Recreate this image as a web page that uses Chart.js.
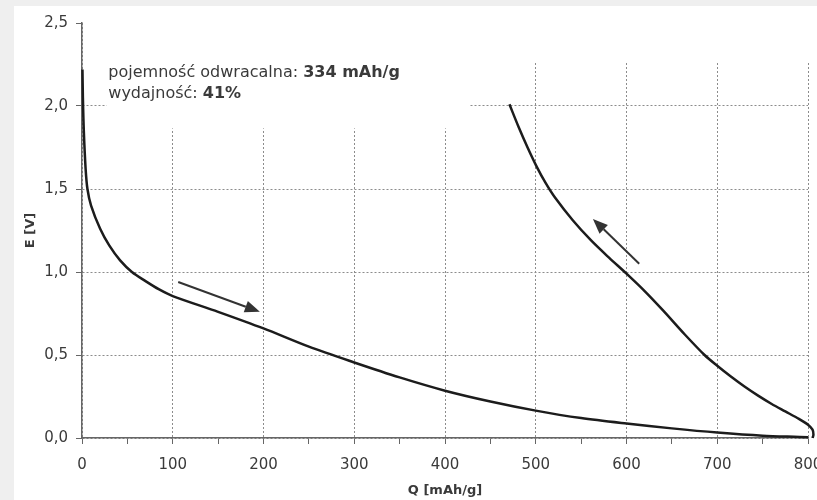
<!DOCTYPE html>
<html>
<head>
<meta charset="utf-8">
<script src="https://cdn.jsdelivr.net/npm/chart.js@4/dist/chart.umd.min.js"></script>
<style>
  html, body { margin: 0; padding: 0; background: #efefef; overflow: hidden; width: 817px; height: 500px; }
  #wrap { position: absolute; left: 14px; top: 6px; width: 830px; height: 494px; background: #fff; }
  canvas { display: block; }
</style>
</head>
<body>
<div id="wrap"><canvas id="c" width="830" height="494"></canvas></div>
<script>
// krzywa rozładowania (strzałka w prawo)
const qDischarge = [0.5, 1, 2, 4, 6, 10, 20, 30, 42, 55, 70, 85, 100, 150, 200, 250, 300, 350, 400, 450, 500, 550, 600, 650, 700, 750, 800, 805];
const eDischarge = [2.22, 2.05, 1.85, 1.62, 1.5, 1.4, 1.26, 1.16, 1.07, 1.0, 0.945, 0.895, 0.855, 0.76, 0.66, 0.55, 0.455, 0.365, 0.285, 0.22, 0.165, 0.12, 0.087, 0.058, 0.033, 0.014, 0.004, 0.0];

// krzywa ładowania (strzałka w lewo)
const qCharge = [805, 806, 805, 800, 790, 775, 760, 745, 730, 715, 700, 686, 664, 640, 620, 600, 581, 561, 541, 521, 511, 501, 491, 481, 471];
const eCharge = [0.0, 0.02, 0.05, 0.08, 0.115, 0.16, 0.205, 0.255, 0.31, 0.37, 0.435, 0.5, 0.625, 0.77, 0.885, 0.99, 1.085, 1.19, 1.31, 1.45, 1.535, 1.635, 1.75, 1.875, 2.01];

// osie
const qTicks = [0, 100, 200, 300, 400, 500, 600, 700, 800];
const eTicks = [0, 0.5, 1.0, 1.5, 2.0, 2.5];

// strzałki [q0, e0, q1, e1]
const arrows = [
  [106, 0.94, 196, 0.76],
  [614, 1.05, 563, 1.32]
];

// opis
const noteLines = [
  ['pojemność odwracalna: ', '334 mAh/g'],
  ['wydajność: ', '41%']
];
const notePos = { q: 29, e: 2.2 };

const FONT = 'DejaVu Sans';
const TEXT = '#3a3a3a';

const toPoints = (xs, ys) => xs.map((x, i) => ({ x, y: ys[i] }));

const overlay = {
  id: 'overlay',
  beforeDatasetsDraw(chart) {
    const { ctx, chartArea: a, scales: { x, y } } = chart;
    ctx.save();
    ctx.fillStyle = '#fff';
    // górny pas bez siatki
    ctx.fillRect(a.left + 1, a.top - 2, a.right - a.left + 3, y.getPixelForValue(2.27) - a.top + 2);
    // tło pod opisem
    const bx = x.getPixelForValue(27);
    ctx.fillRect(bx, a.top - 2, x.getPixelForValue(427) - bx, y.getPixelForValue(1.865) - a.top + 2);
    ctx.restore();
  },
  afterDatasetsDraw(chart) {
    const { ctx, scales: { x, y } } = chart;
    ctx.save();
    ctx.strokeStyle = '#333';
    ctx.fillStyle = '#333';
    ctx.lineWidth = 2;
    arrows.forEach(([q0, e0, q1, e1]) => {
      const x0 = x.getPixelForValue(q0), y0 = y.getPixelForValue(e0);
      const x1 = x.getPixelForValue(q1), y1 = y.getPixelForValue(e1);
      const ang = Math.atan2(y1 - y0, x1 - x0);
      const len = 15, half = 6;
      const bxp = x1 - len * Math.cos(ang), byp = y1 - len * Math.sin(ang);
      ctx.beginPath();
      ctx.moveTo(x0, y0);
      ctx.lineTo(bxp, byp);
      ctx.stroke();
      ctx.beginPath();
      ctx.moveTo(x1, y1);
      ctx.lineTo(bxp + half * Math.sin(ang), byp - half * Math.cos(ang));
      ctx.lineTo(bxp - half * Math.sin(ang), byp + half * Math.cos(ang));
      ctx.closePath();
      ctx.fill();
    });

    // opis
    ctx.fillStyle = TEXT;
    ctx.textBaseline = 'middle';
    let ty = y.getPixelForValue(notePos.e);
    const tx = x.getPixelForValue(notePos.q);
    noteLines.forEach(([plain, bold]) => {
      ctx.font = '16px "' + FONT + '"';
      ctx.fillText(plain, tx, ty);
      const w = ctx.measureText(plain).width;
      ctx.font = 'bold 16px "' + FONT + '"';
      ctx.fillText(bold, tx + w, ty);
      ty += 21;
    });
    ctx.restore();
  }
};

new Chart(document.getElementById('c'), {
  type: 'line',
  data: {
    datasets: [
      {
        data: toPoints(qDischarge, eDischarge),
        borderColor: '#1c1c1c',
        borderWidth: 2.5,
        pointRadius: 0,
        tension: 0.3,
        clip: false
      },
      {
        data: toPoints(qCharge, eCharge),
        borderColor: '#1c1c1c',
        borderWidth: 2.5,
        pointRadius: 0,
        tension: 0.3,
        clip: false
      }
    ]
  },
  options: {
    responsive: false,
    animation: false,
    events: [],
    layout: { padding: { left: 0, top: 15, right: 36, bottom: 0 } },
    plugins: { legend: { display: false }, tooltip: { enabled: false } },
    scales: {
      x: {
        type: 'linear',
        min: qTicks[0],
        max: qTicks[qTicks.length - 1],
        afterFit: s => { s.height = 62; },
        ticks: {
          stepSize: 50,
          autoSkip: false,
          maxRotation: 0,
          padding: 12,
          color: TEXT,
          font: { family: FONT, size: 15 },
          callback: v => (qTicks.includes(v) ? String(v) : '')
        },
        grid: {
          color: c => (c.tick && qTicks.includes(c.tick.value) ? '#8c8c8c' : 'transparent'),
          lineWidth: 1,
          tickLength: 6,
          tickColor: '#666',
          tickBorderDash: [],
          tickWidth: 1
        },
        border: { color: '#666', width: 1.5, dash: [2, 2] },
        title: {
          display: true,
          text: 'Q [mAh/g]',
          color: TEXT,
          font: { family: FONT, size: 13, weight: 'bold' },
          padding: { top: 0, bottom: 2 }
        }
      },
      y: {
        min: eTicks[0],
        max: eTicks[eTicks.length - 1],
        afterFit: s => { s.width = 68; },
        ticks: {
          stepSize: 0.5,
          padding: 8,
          color: TEXT,
          font: { family: FONT, size: 15 },
          callback: v => v.toFixed(1).replace('.', ',')
        },
        grid: {
          color: c => (c.tick && c.tick.value < 2.5 ? '#8c8c8c' : 'transparent'),
          lineWidth: 1,
          tickLength: 6,
          tickColor: '#666',
          tickBorderDash: [],
          tickWidth: 1
        },
        border: { color: '#666', width: 1.5, dash: [2, 2] },
        title: {
          display: true,
          text: 'E [V]',
          color: TEXT,
          font: { family: FONT, size: 13, weight: 'bold' },
          padding: { top: 9, bottom: 0 }
        }
      }
    }
  },
  plugins: [overlay]
});
</script>
</body>
</html>
